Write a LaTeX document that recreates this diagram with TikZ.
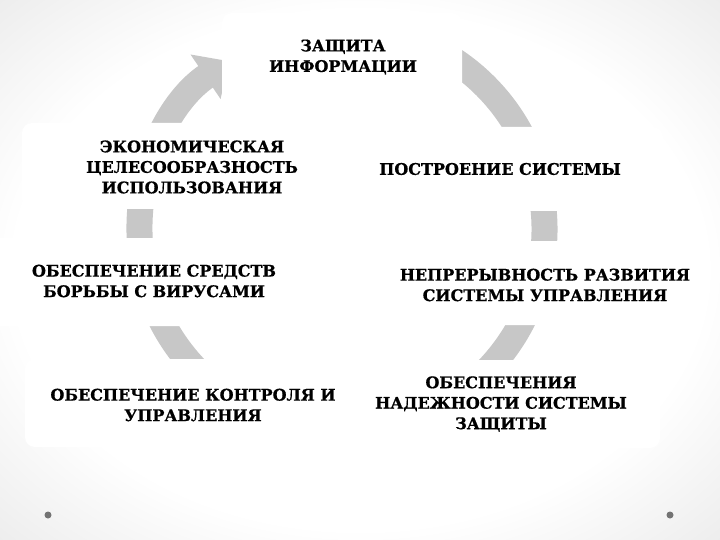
\documentclass[tikz,border=0pt]{standalone}
\usepackage{fontspec}
\setmainfont{DejaVu Serif}
\newfontfamily\cardfont[BoldFeatures={FakeBold=0.8}]{DejaVu Serif}
\usetikzlibrary{arrows.meta}
\pgfdeclareradialshading{slideglow}{\pgfpoint{0bp}{0bp}}{color(0bp)=(white); color(24bp)=(white); color(50bp)=(black!16); color(72bp)=(black!26)}

\tikzset{
	card/.style={fill=white, draw=none, rounded corners=10pt},
	cardtext/.style={font=\cardfont\bfseries\fontsize{16}{20.5}\selectfont, align=center, inner sep=0pt},
	cycleband/.style={line width=26pt, draw=black!22},
}

\begin{document}
\begin{tikzpicture}[x=1pt, y=-1pt]
			%%%%% START %%%%%
			
			\useasboundingbox (0, 0) rectangle (720, 540);
			\shade[shading=slideglow] (0, 0) rectangle (720, 540);
			
			\draw[cycleband, -{Triangle[length=28pt, width=52pt]}] (342, 229) ++(262:202.5) arc[start angle=262, end angle=596, radius=202.5];
			
			\fill[card] (222, 13) rectangle (462, 128);
			\fill[card] (22, 123) rectangle (362, 209);
			\fill[card] (338, 127) rectangle (663, 211);
			\fill[card] (-12, 238) rectangle (312, 326);
			\fill[card] (384, 241) rectangle (701, 325);
			\fill[card] (25, 359) rectangle (363, 447);
			\fill[card] (340, 360) rectangle (660, 448);
			
			\node[cardtext] (protect) at (343, 57) {ЗАЩИТА\\ИНФОРМАЦИИ};
			\node[cardtext] (econ) at (192, 167) {ЭКОНОМИЧЕСКАЯ\\ЦЕЛЕСООБРАЗНОСТЬ\\ИСПОЛЬЗОВАНИЯ};
			\node[cardtext] (build) at (500, 169) {ПОСТРОЕНИЕ СИСТЕМЫ};
			\node[cardtext] (virus) at (154, 281) {ОБЕСПЕЧЕНИЕ СРЕДСТВ\\БОРЬБЫ С ВИРУСАМИ};
			\node[cardtext] (develop) at (545, 285) {НЕПРЕРЫВНОСТЬ РАЗВИТИЯ\\СИСТЕМЫ УПРАВЛЕНИЯ};
			\node[cardtext] (control) at (193, 405) {ОБЕСПЕЧЕНИЕ КОНТРОЛЯ И\\УПРАВЛЕНИЯ};
			\node[cardtext] (reliab) at (501, 404) {ОБЕСПЕЧЕНИЯ\\НАДЕЖНОСТИ СИСТЕМЫ\\ЗАЩИТЫ};
			
			\fill[black!55] (48, 515) circle (3.5);
			\fill[black!55] (670, 515) circle (3.5);
			
			%%%%% END %%%%%
\end{tikzpicture}
\end{document}
